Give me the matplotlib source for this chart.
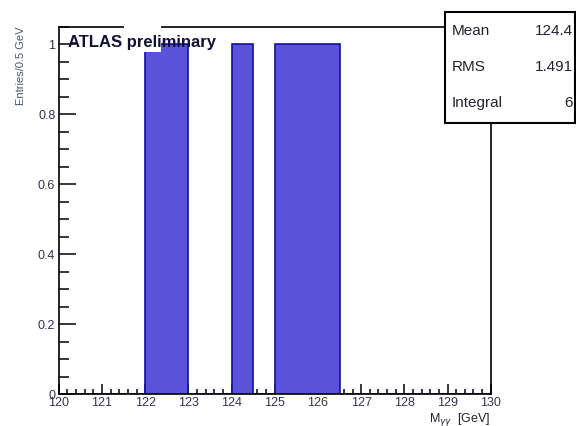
import numpy as np
import matplotlib
matplotlib.use("Agg")
from matplotlib import pyplot as plt
from matplotlib.ticker import MultipleLocator
from matplotlib.patches import Rectangle

plt.rcParams['font.family'] = ['Liberation Sans', 'DejaVu Sans']

# histogram of diphoton mass, 0.5 GeV bins from 120 to 130
edges = np.arange(120.0, 130.5, 0.5)
counts = [0, 0, 0, 0, 1, 1, 0, 0, 1, 0, 1, 1, 1, 0, 0, 0, 0, 0, 0, 0]

counts = np.array(counts, dtype=float)
centers = 0.5*(edges[:-1] + edges[1:])
integral = counts.sum()
mean = (counts*centers).sum()/integral
rms = np.sqrt((counts*(centers - mean)**2).sum()/integral)

fig = plt.figure(figsize=(5.76, 4.26), dpi=100)
ax = fig.add_axes([0.102, 0.075, 0.75, 0.862])

ax.stairs(counts, edges, fill=True, color="#5a52d8", zorder=2)
ax.stairs(counts, edges, color="#1010a0", lw=1.2, zorder=3)

ax.set_xlim(120, 130)
ax.set_ylim(0, 1.05)
ax.xaxis.set_major_locator(MultipleLocator(1))
ax.xaxis.set_minor_locator(MultipleLocator(0.2))
ax.yaxis.set_major_locator(MultipleLocator(0.2))
ax.yaxis.set_minor_locator(MultipleLocator(0.05))
ax.yaxis.set_major_formatter(plt.FuncFormatter(lambda v, p: "%g" % v))
ax.tick_params(axis="x", which="major", direction="in", length=7, width=1.1, labelsize=9, pad=2)
ax.tick_params(axis="x", which="minor", direction="in", length=3.6, width=1.1)
ax.tick_params(axis="y", which="major", direction="in", length=12, width=1.1, labelsize=9, pad=2.5)
ax.tick_params(axis="y", which="minor", direction="in", length=7, width=1.1)
ax.tick_params(colors="#333355", which="both")
ax.tick_params(which="both", color="black", top=False, right=False)
for s in ax.spines.values():
    s.set_linewidth(1.2)
    s.set_zorder(4)

ax.set_ylabel("Entries/0.5 GeV", fontsize=8, color="#445577")
ax.yaxis.set_label_coords(-0.075, 1.0)
ax.yaxis.label.set_horizontalalignment("right")
ax.set_xlabel(r"M$_{\gamma\gamma}$  [GeV]", fontsize=9, color="#222233")
ax.xaxis.set_label_coords(1.0, -0.045)
ax.xaxis.label.set_horizontalalignment("right")

# label patch
fig.patches.append(Rectangle((124/576, 1 - 52/426), 37/576, 32/426,
                             transform=fig.transFigure, facecolor="white",
                             edgecolor="none", zorder=5))
fig.text(68/576, 1 - 42/426, "ATLAS preliminary", fontsize=12, fontweight="bold",
         color="#111133", va="center", ha="left", zorder=6)

# stats box
fig.patches.append(Rectangle((445/576, 1 - 123/426), 130/576, 111/426,
                             transform=fig.transFigure, facecolor="white",
                             edgecolor="black", lw=1.5, zorder=5))
rows = [("Mean", "%.1f" % mean), ("RMS", "%.3f" % rms), ("Integral", "%g" % integral)]
for i, (name, val) in enumerate(rows):
    y = 1 - (31 + 36*i)/426
    fig.text(452/576, y, name, fontsize=11, color="#222233", va="center", zorder=6)
    fig.text(573/576, y, val, fontsize=11, color="#222233", va="center", ha="right", zorder=6)

plt.savefig("out.png", dpi=100)
